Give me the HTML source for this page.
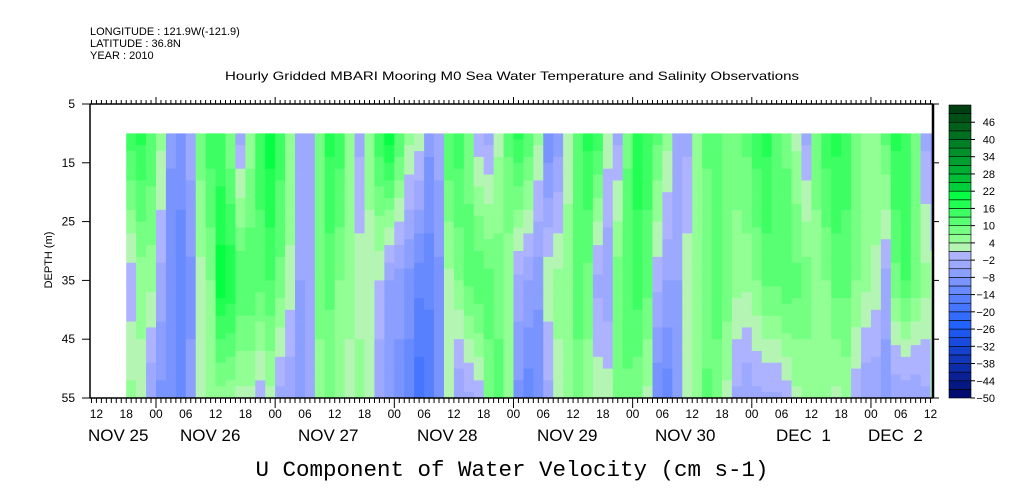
<!DOCTYPE html>
<html><head><meta charset="utf-8">
<style>
html,body{margin:0;padding:0;background:#fff;}
svg{display:block;font-family:"Liberation Sans",sans-serif;}
</style></head>
<body>
<svg id="chart" width="1009" height="504" viewBox="0 0 1009 504">
<g font-size="11" fill="#000">
<text x="90" y="35">LONGITUDE : 121.9W(-121.9)</text>
<text x="90" y="47">LATITUDE : 36.8N</text>
<text x="90" y="59">YEAR : 2010</text>
</g>
<text x="512" y="80" font-size="12" text-anchor="middle" textLength="574" lengthAdjust="spacingAndGlyphs">Hourly Gridded MBARI Mooring M0 Sea Water Temperature and Salinity Observations</text>
<g id="heat"></g>
<g id="axes"></g>
<g id="cbar"></g>
<text x="52" y="260" font-size="11" text-anchor="middle" transform="rotate(-90 52 260)">DEPTH (m)</text>
<text x="512" y="476" font-size="22" font-family="Liberation Mono, monospace" text-anchor="middle" textLength="513" lengthAdjust="spacingAndGlyphs">U Component of Water Velocity (cm s-1)</text>
</svg>
<script>
// hours since Nov 25 00:00 of first column (2-hour steps)
const startHour = 18;
const stepHours = 2;
const depthLevels = [10, 35, 55];
const uTop = [14,16,12,4,-8,-10,-4,8,14,12,6,-4,4,14,20,14,6,-4,-6,6,16,14,6,-4,4,14,20,12,4,2,-8,-4,12,14,8,-2,-4,2,10,16,12,4,-12,-8,2,12,16,14,2,-4,8,16,14,10,4,-6,-4,4,10,12,6,8,10,14,16,12,8,2,-4,8,14,16,14,8,4,6,10,16,14,8,-4,-8,-6];
const uMid = [-2,4,4,-4,-12,-14,-10,2,6,20,18,12,12,10,12,8,2,-6,-4,8,10,6,4,2,2,0,-6,-8,-10,-14,-14,-10,2,6,10,12,10,8,4,-4,-6,-8,2,4,4,10,8,-4,-6,8,12,14,10,-2,-6,-6,2,4,6,10,8,4,4,6,10,10,12,10,8,4,6,10,10,6,4,2,-4,8,12,8,4,2,4];
const uBot = [4,2,-6,-10,-12,-14,-8,2,4,4,4,2,2,-2,2,-4,-6,-8,-4,4,6,4,2,4,2,-6,-8,-10,-14,-20,-18,-10,2,-6,-4,-2,8,10,6,-10,-14,-12,-4,2,4,8,4,2,2,6,8,6,2,-12,-14,-8,2,4,10,8,2,-4,-6,-4,-4,-4,-2,2,4,4,4,2,4,-2,-6,-6,-8,-6,-6,-6,-4,2,2];
const cbarLabels = [46,40,34,28,22,16,10,4,-2,-8,-14,-20,-26,-32,-38,-44,-50];
const depthTicks = [5,15,25,35,45,55];
const hourLabels = ["12","18","00","06","12","18","00","06","12","18","00","06","12","18","00","06","12","18","00","06","12","18","00","06","12","18","00","06","12"];
const dayLabels = ["NOV 25","NOV 26","NOV 27","NOV 28","NOV 29","NOV 30","DEC  1","DEC  2"];
const dayLabelX = [88,180,298,417,537,655,776,868];

const NS="http://www.w3.org/2000/svg";
const X0=90,X1=933,Y0=104,Y1=398;
function xs(t){return 156+4.965*(t-24);}
function ys(d){return Y0+(d-5)*(Y1-Y0)/50;}
function mk(tag,attrs,parent){const e=document.createElementNS(NS,tag);for(const k in attrs)e.setAttribute(k,attrs[k]);parent.appendChild(e);return e;}
function lerp(a,b,f){return a+(b-a)*f;}
function color(v){
  v=Math.floor(v/3)*3+1.5;
  if(v>=0){
    if(v<=4){return "rgb(180,245,180)";}
    if(v<=20){const f=(v-4)/16;return `rgb(${Math.round(lerp(150,0,f))},255,${Math.round(lerp(150,64,f))})`;}
    const f=Math.min(1,(v-20)/30);return `rgb(0,${Math.round(lerp(220,60,f))},${Math.round(lerp(64,16,f))})`;
  } else {
    if(v>=-26){const f=(-v)/26;return `rgb(${Math.round(lerp(182,32,f))},${Math.round(lerp(184,96,f))},255)`;}
    const f=Math.min(1,(-v-26)/24);return `rgb(${Math.round(lerp(32,0,f))},${Math.round(lerp(96,10,f))},${Math.round(lerp(255,110,f))})`;
  }
}
function valAt(k,d){
  const a=uTop[k],b=uMid[k],c=uBot[k];
  if(d<=depthLevels[1]){return lerp(a,b,(d-depthLevels[0])/(depthLevels[1]-depthLevels[0]));}
  return lerp(b,c,(d-depthLevels[1])/(depthLevels[2]-depthLevels[1]));
}
const heat=document.getElementById('heat');
const n=Math.min(uTop.length,uMid.length,uBot.length);
for(let k=0;k<n;k++){
  const t=startHour+k*stepHours;
  const xa=xs(t),xb=Math.min(X1,xs(t+stepHours));
  if(xa>=X1)break;
  for(let d=10;d<55;d++){
    const v=valAt(k,d+0.5);
    const r=mk('rect',{x:xa.toFixed(2),y:ys(d).toFixed(2),width:(xb-xa+0.4).toFixed(2),height:(ys(d+1)-ys(d)+0.4).toFixed(2),fill:color(v)},heat);
    
    
  }
}
const ax=document.getElementById('axes');
let l;
l=mk('line',{x1:X0,y1:Y0,x2:X0,y2:Y1,stroke:'#000','stroke-width':1.5},ax);
l=mk('line',{x1:X0,y1:Y0,x2:X1,y2:Y0,stroke:'#000','stroke-width':1.5},ax);
l=mk('line',{x1:X0,y1:Y1,x2:X1,y2:Y1,stroke:'#000','stroke-width':1.5},ax);
l=mk('line',{x1:X1,y1:Y0,x2:X1,y2:Y1,stroke:'#000','stroke-width':2.5},ax);
for(let t=11;t<=180;t++){
  const x=xs(t);if(x<X0||x>X1)continue;
  const big=(t%24===0);
  l=mk('line',{x1:x,y1:Y0,x2:x,y2:Y0-(big?7:4),stroke:'#000','stroke-width':1},ax);
  l=mk('line',{x1:x,y1:Y1,x2:x,y2:Y1+(big?10:5),stroke:'#000','stroke-width':1},ax);
}
hourLabels.forEach((s,i)=>{
  const tx=mk('text',{x:xs(12+6*i),y:418,'font-size':12,'text-anchor':'middle'},ax);tx.textContent=s;
  
});
dayLabels.forEach((s,i)=>{
  const tx=mk('text',{x:dayLabelX[i],y:441,'font-size':17},ax);tx.textContent=s;tx.style.whiteSpace='pre';
  
});
depthTicks.forEach(d=>{
  const y=ys(d);
  l=mk('line',{x1:X0-8,y1:y,x2:X0,y2:y,stroke:'#000','stroke-width':1},ax);
  l=mk('line',{x1:X1,y1:y,x2:X1+6,y2:y,stroke:'#000','stroke-width':1},ax);
  const tx=mk('text',{x:X0-15,y:y+4,'font-size':12,'text-anchor':'end'},ax);tx.textContent=String(d);
  
});
const cb=document.getElementById('cbar');
const cbX=949,cbW=22,cbTop=105,cbBot=398;
const nb=34;const bh=(cbBot-cbTop)/nb;
for(let i=0;i<nb;i++){
  const v=-50+3*i;
  const r=mk('rect',{x:cbX,y:(cbBot-(i+1)*bh).toFixed(2),width:cbW,height:bh.toFixed(2),fill:color(v+0.5),stroke:'#000','stroke-width':0.6},cb);
  
}
cbarLabels.forEach(v=>{
  const y=cbBot-(v+50)/3*bh;
  l=mk('line',{x1:cbX+cbW,y1:y,x2:cbX+cbW+4,y2:y,stroke:'#000','stroke-width':1},cb);
  const tx=mk('text',{x:995,y:y+4,'font-size':11,'text-anchor':'end'},cb);tx.textContent=String(v).replace('-','\u2212');
  
});
</script>
</body></html>
